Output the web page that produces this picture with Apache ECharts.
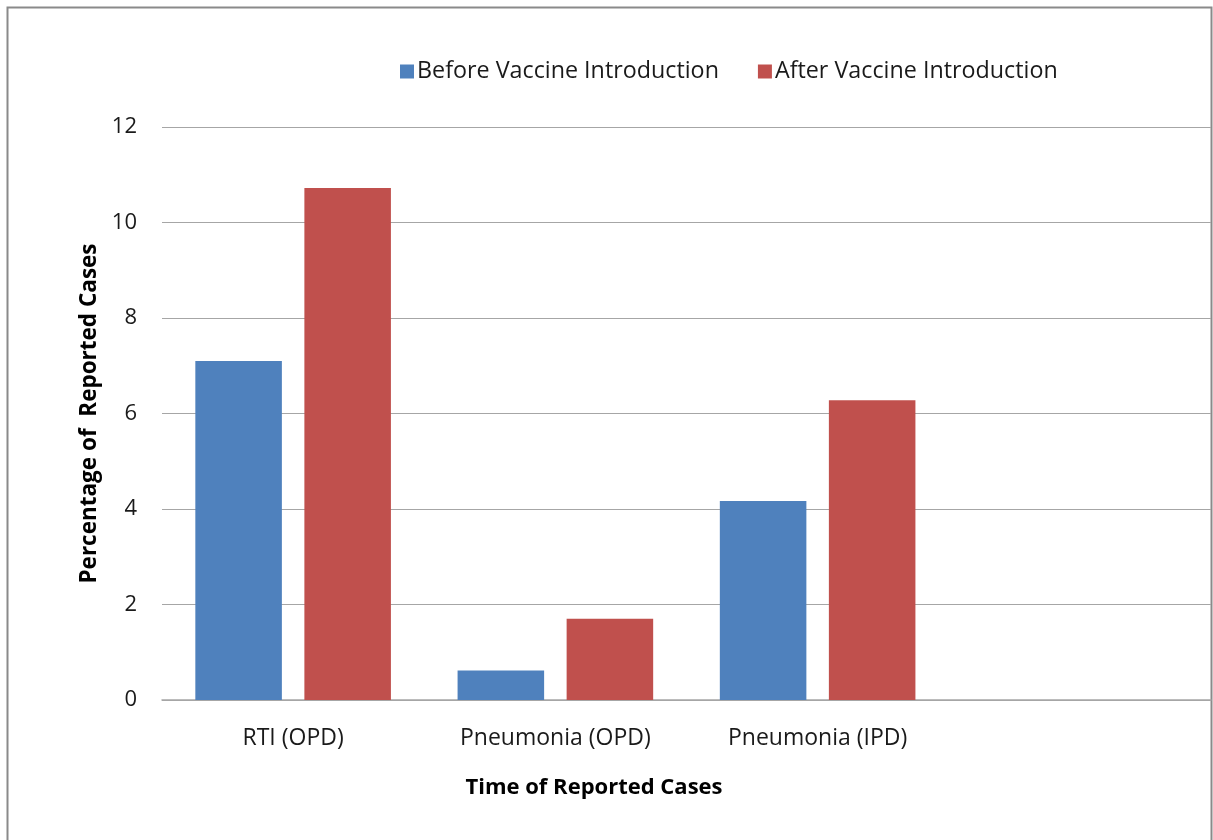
<!DOCTYPE html>
<html><head><meta charset="utf-8">
<script src="https://cdn.jsdelivr.net/npm/echarts@6/dist/echarts.min.js"></script>
<style>html,body{margin:0;padding:0;background:#fff}#c{width:1213px;height:840px}</style>
</head><body><div id="c"></div>
<script>
const categories = ['RTI (OPD)', 'Pneumonia (OPD)', 'Pneumonia (IPD)', ''];
const seriesNames = ['Before Vaccine Introduction', 'After Vaccine Introduction'];
const beforeValues = [7.1, 0.62, 4.17, null];
const afterValues = [10.72, 1.7, 6.28, null];
const yTicks = [0, 2, 4, 6, 8, 10, 12];
const xTitle = 'Time of Reported Cases';
const yTitle = 'Percentage of  Reported Cases';

const FONT = 'Open Sans';
const chart = echarts.init(document.getElementById('c'), null, {renderer: 'canvas'});
chart.setOption({
  backgroundColor: '#fff',
  animation: false,
  textStyle: {fontFamily: FONT},
  graphic: [{
    type: 'rect', shape: {x: 7.5, y: 7.5, width: 1204, height: 840},
    style: {fill: 'none', stroke: '#8a8a8a', lineWidth: 2}, silent: true
  }],
  title: {
    text: xTitle, left: 589, top: 772, textAlign: 'center',
    textStyle: {fontFamily: FONT, fontSize: 22, fontWeight: 'bold', color: '#000'}
  },
  legend: {
    left: 395, top: 55, itemWidth: 14, itemHeight: 14, itemGap: 39,
    icon: 'rect',
    textStyle: {fontFamily: FONT, fontSize: 23.3, color: '#1a1a1a', padding: [0, 0, 0, -2]},
    data: seriesNames
  },
  grid: {left: 162, right: 2, top: 127, bottom: 140, containLabel: false},
  xAxis: {
    type: 'category', data: categories,
    axisLine: {show: true, lineStyle: {color: '#a6a6a6', width: 1.5}},
    axisTick: {show: false},
    axisLabel: {fontFamily: FONT, fontSize: 23, color: '#1a1a1a', margin: 27, interval: 0}
  },
  yAxis: {
    type: 'value', min: yTicks[0], max: yTicks[yTicks.length - 1], interval: 2,
    name: yTitle, nameLocation: 'middle', nameGap: 60,
    nameTextStyle: {fontFamily: FONT, fontSize: 22.5, fontWeight: 'bold', color: '#000'},
    axisLine: {show: false}, axisTick: {show: false},
    axisLabel: {fontFamily: FONT, fontSize: 22, color: '#1a1a1a', margin: 25},
    splitLine: {lineStyle: {color: '#a6a6a6', width: 1.2}}
  },
  series: [
    {name: seriesNames[0], type: 'bar', data: beforeValues, barWidth: '33%', barGap: '26%',
     itemStyle: {color: '#4F81BD'}},
    {name: seriesNames[1], type: 'bar', data: afterValues, barWidth: '33%', barGap: '26%',
     itemStyle: {color: '#C0504D'}}
  ]
});
</script></body></html>
